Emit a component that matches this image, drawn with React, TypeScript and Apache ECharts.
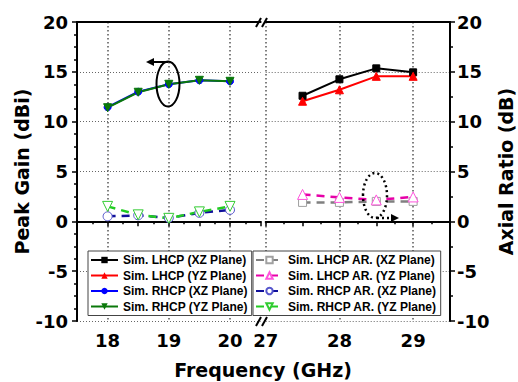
import React, { useEffect, useRef } from 'react';
import * as echarts from 'echarts';

// Frequencies (GHz)
const freqLow = [18, 18.5, 19, 19.5, 20];
const freqHigh = [27.5, 28, 28.5, 29];

// Peak gain (dBi)
const lhcpXZ = [12.6, 14.25, 15.35, 14.95];
const lhcpYZ = [12.05, 13.2, 14.55, 14.55];
const rhcpXZ = [11.45, 13.0, 13.75, 14.15, 14.05];
const rhcpYZ = [11.4, 12.95, 13.75, 14.15, 14.05];

// Axial ratio (dB)
const lhcpArXZ = [1.9, 1.9, 2.0, 2.0];
const lhcpArYZ = [2.7, 2.4, 2.15, 2.45];
const rhcpArXZ = [0.5, 0.6, 0.35, 0.85, 1.15];
const rhcpArYZ = [1.5, 0.65, 0.3, 0.95, 1.5];

// Axis ranges (GHz) of the two segments and their vertical grid lines
const rangeLow = [17.5, 20.5];
const rangeHigh = [27, 29.5];
const gridTicksLow = [18, 19, 20];
const gridTicksHigh = [27, 28, 29];

const names = [
  'Sim. LHCP (XZ Plane)',
  'Sim. LHCP (YZ Plane)',
  'Sim. RHCP (XZ Plane)',
  'Sim. RHCP (YZ Plane)',
  'Sim. LHCP AR. (XZ Plane)',
  'Sim. LHCP AR. (YZ Plane)',
  'Sim. RHCP AR. (XZ Plane)',
  'Sim. RHCP AR. (YZ Plane)',
];

const pairs = (xs: number[], ys: number[]) => xs.map((x, i) => [x, ys[i]]);

export default function App() {
  const ref = useRef<HTMLDivElement>(null);
  useEffect(() => {
    const chart = echarts.init(ref.current!, null, { renderer: 'svg' });
    const bigFont = 'DejaVu Sans';
    const tickLabel = { fontFamily: bigFont, fontWeight: 'bold' as const, fontSize: 18, color: '#000' };
    const axisLine = { show: true, lineStyle: { color: '#000', width: 2 } };
    const axisTick = { show: true, inside: false, length: 5, lineStyle: { color: '#000', width: 1.5 } };
    const minorTickX = { show: true, splitNumber: 2, length: 3, lineStyle: { color: '#000', width: 1.5 } };
    const dotted = { show: true, lineStyle: { color: '#666', width: 1, type: [1, 2] as any } };
    const dottedV = { show: true, lineStyle: { color: '#555', width: 1.5, type: [1.5, 2.5] as any } };
    const xLabel = {
      ...tickLabel,
      margin: 10,
      formatter: (v: number) => (Number.isInteger(v) ? String(v) : ''),
    };

    const top = 22;
    const height = 299;
    const lowLeft = 77;
    const lowWidth = 183.6;
    const highLeft = 265.7;
    const highWidth = 184.3;
    const pxLow = lowWidth / (rangeLow[1] - rangeLow[0]);
    const pxHigh = highWidth / (rangeHigh[1] - rangeHigh[0]);
    const gLowL = lowLeft + (gridTicksLow[0] - rangeLow[0]) * pxLow;
    const gLowW = (gridTicksLow[gridTicksLow.length - 1] - gridTicksLow[0]) * pxLow;
    const gHighL = highLeft + (gridTicksHigh[0] - rangeHigh[0]) * pxHigh;
    const gHighW = (gridTicksHigh[gridTicksHigh.length - 1] - gridTicksHigh[0]) * pxHigh;

    const xAxisBase = (grid: number, range: number[]) => ({
      type: 'value' as const,
      gridIndex: grid,
      min: range[0],
      max: range[1],
      interval: 0.5,
      position: 'bottom' as const,
      axisLine,
      axisTick,
      minorTick: minorTickX,
      axisLabel: xLabel,
      splitLine: { show: false },
    });
    const xAxisTop = (grid: number, range: number[]) => ({
      type: 'value' as const,
      gridIndex: grid,
      min: range[0],
      max: range[1],
      position: 'top' as const,
      axisLine,
      axisTick: { show: false },
      axisLabel: { show: false },
      splitLine: { show: false },
    });
    const xAxisGrid = (grid: number, ticks: number[]) => ({
      type: 'value' as const,
      gridIndex: grid,
      min: ticks[0],
      max: ticks[ticks.length - 1],
      interval: 1,
      show: true,
      axisLine: { show: false },
      axisTick: { show: false },
      axisLabel: { show: false },
      splitLine: { ...dottedV, showMinLine: true, showMaxLine: true },
    });
    const yAxisHidden = (grid: number) => ({
      type: 'value' as const,
      gridIndex: grid,
      min: -10,
      max: 20,
      show: true,
      axisLine: { show: false },
      axisTick: { show: false },
      axisLabel: { show: false },
      splitLine: { show: false },
    });

    const yAxisBase = (grid: number, pos: 'left' | 'right', name: string, gap: number, minorSplit: number) => ({
      type: 'value' as const,
      gridIndex: grid,
      min: -10,
      max: 20,
      interval: 5,
      position: pos,
      name,
      nameLocation: 'middle' as const,
      nameGap: gap,
      nameTextStyle: { fontFamily: bigFont, fontWeight: 'bold' as const, fontSize: 19, color: '#000' },
      axisLine,
      axisTick,
      minorTick: { show: true, splitNumber: minorSplit, length: 3, lineStyle: { color: '#000', width: 1.5 } },
      axisLabel: { ...tickLabel, margin: pos === 'left' ? 9 : 7 },
      splitLine: dotted,
    });

    const gainSeries = (name: string, xs: number[], ys: number[], grid: number, color: string, symbol: string, size: number, rotate = 0) => ({
      name,
      type: 'line' as const,
      xAxisIndex: grid,
      yAxisIndex: grid,
      data: pairs(xs, ys),
      symbol,
      symbolSize: size,
      symbolRotate: rotate,
      lineStyle: { color, width: 2 },
      itemStyle: { color, borderColor: color },
      z: 3,
    });
    const arSeries = (name: string, xs: number[], ys: number[], grid: number, lineColor: string, markColor: string, symbol: string, size: number, rotate = 0) => ({
      name,
      type: 'line' as const,
      xAxisIndex: grid,
      yAxisIndex: grid,
      data: pairs(xs, ys),
      symbol,
      symbolSize: size,
      symbolRotate: rotate,
      lineStyle: { color: lineColor, width: 2.5, type: [8, 6] as any },
      itemStyle: { color: '#fff', borderColor: markColor, borderWidth: 1 },
      z: 4,
    });

    const legendBase = {
      orient: 'vertical' as const,
      top: 251,
      itemWidth: 27,
      itemHeight: 8,
      itemGap: 1.5,
      padding: [2, 4, 2, 2],
      backgroundColor: '#fff',
      borderColor: '#444',
      borderWidth: 1,
      borderRadius: 0,
      textStyle: { fontFamily: 'Liberation Sans', fontWeight: 'bold' as const, fontSize: 12, lineHeight: 14, color: '#000' },
      z: 10,
    };

    const option: any = {
      animation: false,
      backgroundColor: '#fff',
      grid: [
        { left: lowLeft, top, width: lowWidth, height },
        { left: highLeft, top, width: highWidth, height },
        { left: gLowL, top, width: gLowW, height },
        { left: gHighL, top, width: gHighW, height },
      ],
      xAxis: [
        xAxisBase(0, rangeLow),
        xAxisBase(1, rangeHigh),
        xAxisTop(0, rangeLow),
        xAxisTop(1, rangeHigh),
        xAxisGrid(2, gridTicksLow),
        xAxisGrid(3, gridTicksHigh),
      ],
      yAxis: [
        yAxisBase(0, 'left', 'Peak Gain (dBi)', 44, 4),
        yAxisBase(1, 'right', 'Axial Ratio (dB)', 46, 2),
        yAxisHidden(2),
        yAxisHidden(3),
      ],
      legend: [
        { ...legendBase, left: 88, data: names.slice(0, 4) },
        { ...legendBase, left: 253, data: names.slice(4, 8) },
      ],
      series: [
        { name: 'gl', type: 'line', xAxisIndex: 4, yAxisIndex: 2, data: [], silent: true },
        { name: 'gh', type: 'line', xAxisIndex: 5, yAxisIndex: 3, data: [], silent: true },
        arSeries(names[4], freqHigh, lhcpArXZ, 1, '#808080', '#a0a0a0', 'rect', 8),
        arSeries(names[5], freqHigh, lhcpArYZ, 1, '#e600a8', '#ff55dd', 'triangle', 10),
        arSeries(names[6], freqLow, rhcpArXZ, 0, '#10109a', '#5555cc', 'circle', 9),
        arSeries(names[7], freqLow, rhcpArYZ, 0, '#22cc22', '#33cc33', 'triangle', 10, 180),
        gainSeries(names[0], freqHigh, lhcpXZ, 1, '#000000', 'rect', 7),
        gainSeries(names[1], freqHigh, lhcpYZ, 1, '#ff0000', 'triangle', 8),
        gainSeries(names[2], freqLow, rhcpXZ, 0, '#0000ff', 'circle', 7),
        gainSeries(names[3], freqLow, rhcpYZ, 0, '#0a780a', 'triangle', 8, 180),
      ],
      graphic: [
        // axis break marks
        { type: 'line', shape: { x1: 256, y1: 27, x2: 261, y2: 18 }, style: { stroke: '#000', lineWidth: 2 }, z: 20 },
        { type: 'line', shape: { x1: 262, y1: 27, x2: 267, y2: 18 }, style: { stroke: '#000', lineWidth: 2 }, z: 20 },
        { type: 'line', shape: { x1: 256, y1: 326, x2: 261, y2: 317 }, style: { stroke: '#000', lineWidth: 2 }, z: 20 },
        { type: 'line', shape: { x1: 262, y1: 326, x2: 267, y2: 317 }, style: { stroke: '#000', lineWidth: 2 }, z: 20 },
        // solid ellipse + left arrow
        { type: 'ellipse', shape: { cx: 168, cy: 84, rx: 11.5, ry: 22.5 }, style: { fill: 'none', stroke: '#000', lineWidth: 2 }, z: 20 },
        { type: 'line', shape: { x1: 168, y1: 62, x2: 152, y2: 62 }, style: { stroke: '#000', lineWidth: 2 }, z: 20 },
        { type: 'polygon', shape: { points: [[146, 62], [154, 58], [154, 66]] }, style: { fill: '#000' }, z: 20 },
        // dotted ellipse + right arrow
        { type: 'ellipse', shape: { cx: 375, cy: 195.5, rx: 12, ry: 22.5 }, style: { fill: 'none', stroke: '#000', lineWidth: 2.5, lineDash: [2, 3] }, z: 20 },
        { type: 'line', shape: { x1: 377, y1: 218, x2: 392, y2: 218 }, style: { stroke: '#000', lineWidth: 2.5, lineDash: [2, 3] }, z: 20 },
        { type: 'polygon', shape: { points: [[399, 218], [391, 214], [391, 222]] }, style: { fill: '#000' }, z: 20 },
        // x axis title
        {
          type: 'text',
          x: 263,
          y: 370,
          style: {
            text: 'Frequency (GHz)',
            fontFamily: bigFont,
            fontWeight: 'bold',
            fontSize: 19,
            fill: '#000',
            align: 'center',
            verticalAlign: 'middle',
            textAlign: 'center',
            textVerticalAlign: 'middle',
          },
          z: 20,
        },
      ],
    };
    chart.setOption(option);
    return () => chart.dispose();
  }, []);
  return <div ref={ref} style={{ position: 'absolute', left: 0, top: 0, width: 518, height: 382 }} />;
}
